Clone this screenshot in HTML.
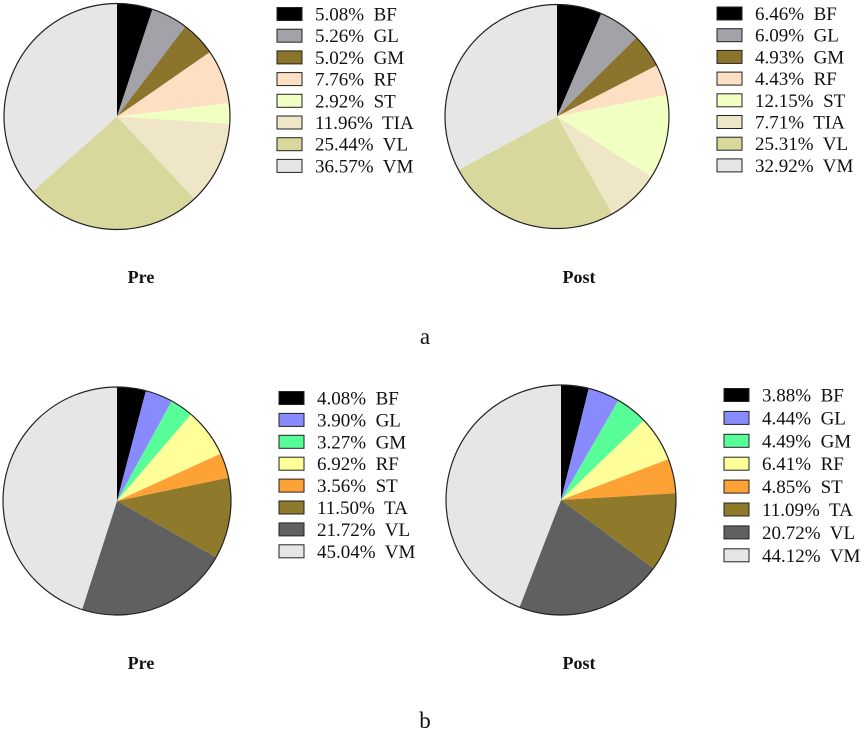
<!DOCTYPE html>
<html><head><meta charset="utf-8"><style>
body{margin:0;background:#fff;}
svg text{font-family:"Liberation Serif",serif;white-space:pre;}
</style></head><body>
<svg id="c" width="865" height="735"></svg>
<script>
const labelsA=["BF","GL","GM","RF","ST","TIA","VL","VM"];
const colorsA=["#000000","#a2a2a8","#8b742c","#fde0c4","#f2ffc2","#efe6c8","#d8d89c","#e6e6e6"];
const aPre=[5.08,5.26,5.02,7.76,2.92,11.96,25.44,36.57];
const aPost=[6.46,6.09,4.93,4.43,12.15,7.71,25.31,32.92];
const labelsB=["BF","GL","GM","RF","ST","TA","VL","VM"];
const colorsB=["#000000","#8a8aff","#58ff98","#ffff9a","#ffa236","#8f7a2c","#606060","#e6e6e6"];
const bPre=[4.08,3.90,3.27,6.92,3.56,11.50,21.72,45.04];
const bPost=[3.88,4.44,4.49,6.41,4.85,11.09,20.72,44.12];

const NS="http://www.w3.org/2000/svg";
const svg=document.getElementById('c');
function mk(tag,attrs,parent){const e=document.createElementNS(NS,tag);for(const k in attrs)e.setAttribute(k,attrs[k]);(parent||svg).appendChild(e);return e;}
function pie(name,vals,labels,colors,cx,cy,r,lx,ly,ldy){
  const g=mk('g',{});
  
  
  const tot=vals.reduce((a,b)=>a+b,0);
  let a0=0;
  vals.forEach((v,i)=>{
    const a1=a0+v/tot*2*Math.PI;
    const x0=cx+r*Math.sin(a0),y0=cy-r*Math.cos(a0),x1=cx+r*Math.sin(a1),y1=cy-r*Math.cos(a1);
    const p=mk('path',{d:`M${cx},${cy}L${x0},${y0}A${r},${r} 0 ${a1-a0>Math.PI?1:0} 1 ${x1},${y1}Z`,fill:colors[i],stroke:'none'},g);
    
    
    a0=a1;
  });
  mk('circle',{cx:cx,cy:cy,r:r,fill:'none',stroke:'#222','stroke-width':1.2},g);
  vals.forEach((v,i)=>{
    const y=ly+i*ldy;
    const s=mk('rect',{x:lx,y:y-6.5,width:25,height:13,fill:colors[i],stroke:'#222','stroke-width':1},g);
    
    
    const t=mk('text',{x:lx+38,y:y+6.5,'font-size':19,fill:'#111'},g);
    
    
    t.textContent=v.toFixed(2)+'%  '+labels[i];
  });
}
pie('pie-a-pre',aPre,labelsA,colorsA,117,116.5,113,277,14,21.7);
pie('pie-a-post',aPost,labelsA,colorsA,557,116.5,112,717,13.5,21.7);
pie('pie-b-pre',bPre,labelsB,colorsB,117,501,114,279,398,21.9);
pie('pie-b-post',bPost,labelsB,colorsB,561,500,115,724,395,22.9);
function txt(name,x,y,s,size,bold){const t=mk('text',{x:x,y:y,'font-size':size,'text-anchor':'middle','font-weight':bold?'bold':'normal',fill:'#111'});t.textContent=s;}
txt('title-a-pre',141,283,'Pre',18,true);
txt('title-a-post',579,283,'Post',18,true);
txt('panel-label-a',425,344,'a',23,false);
txt('title-b-pre',141,669,'Pre',18,true);
txt('title-b-post',579,669,'Post',18,true);
txt('panel-label-b',425,728,'b',23,false);
</script>
</body></html>
